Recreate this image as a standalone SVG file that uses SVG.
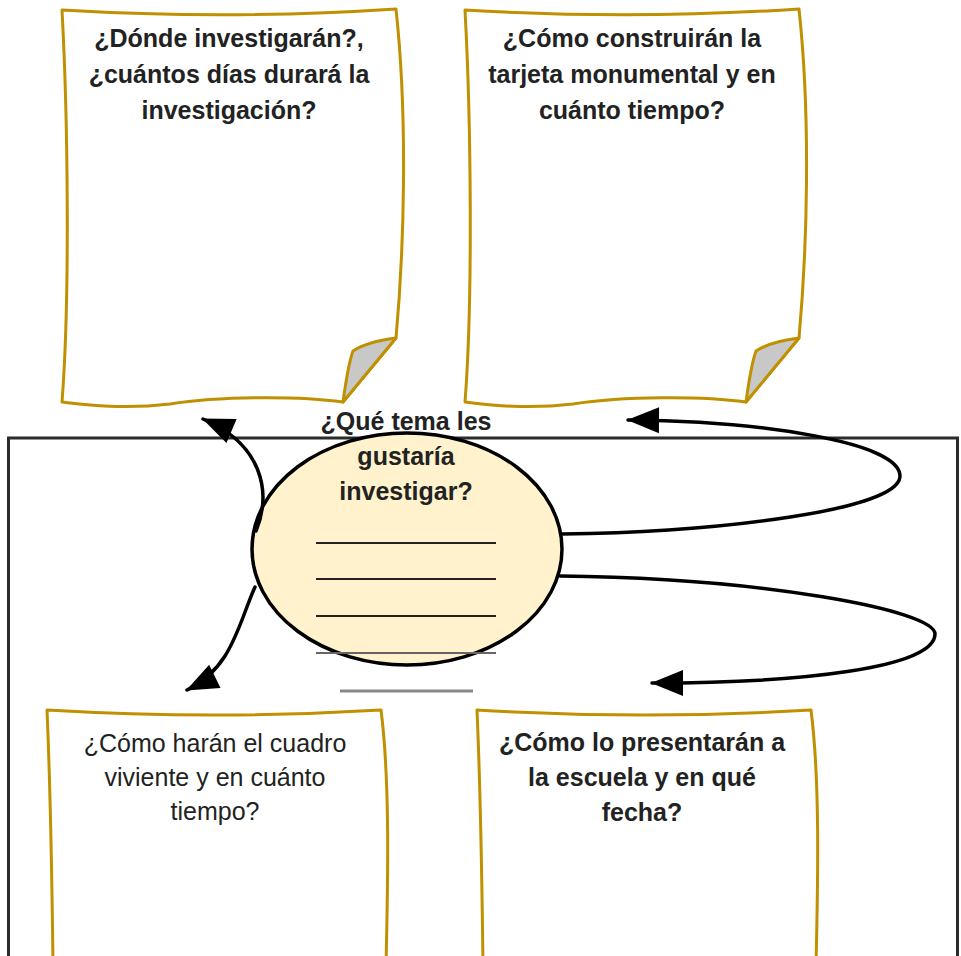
<svg xmlns="http://www.w3.org/2000/svg" width="961" height="956" viewBox="0 0 961 956">
<style>
  .paper { fill: #ffffff; stroke: #bf9000; stroke-width: 3; stroke-linejoin: round; }
  .fold { fill: #c8c8c8; stroke: #bf9000; stroke-width: 3; stroke-linejoin: round; }
  .t { font-family: "Liberation Sans", Arial, sans-serif; font-size: 25px; fill: #222222; text-anchor: middle; }
  .b { font-weight: bold; }
  .conn { fill: none; stroke: #000000; stroke-width: 3.5; stroke-linecap: round; }
  .rule { stroke: #222222; stroke-width: 2; }
</style>
<defs>
  <marker id="ah" markerUnits="userSpaceOnUse" markerWidth="34" markerHeight="28" refX="31" refY="13" orient="auto" overflow="visible">
    <path d="M0,0 L32,13 L0,26 Z" fill="#000000"/>
  </marker>
</defs>
<rect width="961" height="956" fill="#ffffff"/>

<g id="frame">
  <rect x="8.5" y="438" width="949" height="560" fill="none" stroke="#2b2b2b" stroke-width="3"/>
</g>

<g id="paper-donde">
  <path class="paper" d="M 62 10 Q 230 20 396 9 C 408 120 404 250 396 338 L 343 402 C 300 396 220 396 170 404 C 120 410 80 404 62 402 C 70 300 68 120 62 10 Z"/>
  <path class="fold" d="M 343 402 C 346 380 349 362 353 351 C 365 343 380 340 396 338 Z"/>
  <text class="t b" x="229" y="47">¿Dónde investigarán?,</text>
  <text class="t b" x="229" y="83">¿cuántos días durará la</text>
  <text class="t b" x="229" y="119">investigación?</text>
</g>

<g id="paper-tarjeta">
  <path class="paper" d="M 465 10 Q 633 20 799 9 C 811 120 807 250 799 338 L 746 402 C 703 396 623 396 573 404 C 523 410 483 404 465 402 C 473 300 471 120 465 10 Z"/>
  <path class="fold" d="M 746 402 C 749 380 752 362 756 351 C 768 343 783 340 799 338 Z"/>
  <text class="t b" x="632" y="47">¿Cómo construirán la</text>
  <text class="t b" x="632" y="83">tarjeta monumental y en</text>
  <text class="t b" x="632" y="119">cuánto tiempo?</text>
</g>

<g id="paper-cuadro">
  <path class="paper" d="M 47 710 Q 215 720 381 710 C 390 780 388 880 386 965 L 53 965 C 52 880 50 780 47 710 Z"/>
  <text class="t" x="215" y="752">¿Cómo harán el cuadro</text>
  <text class="t" x="215" y="786">viviente y en cuánto</text>
  <text class="t" x="215" y="820">tiempo?</text>
</g>

<g id="paper-escuela">
  <path class="paper" d="M 477 710 Q 645 720 811 710 C 820 780 818 880 816 965 L 483 965 C 482 880 480 780 477 710 Z"/>
  <text class="t b" x="642" y="751">¿Cómo lo presentarán a</text>
  <text class="t b" x="642" y="786">la escuela y en qué</text>
  <text class="t b" x="642" y="821">fecha?</text>
</g>

<g id="tema">
  <ellipse cx="407" cy="549" rx="155" ry="116" fill="#fff2cc" stroke="#000000" stroke-width="3.5"/>
  <line class="rule" x1="316" y1="543" x2="496" y2="543"/>
  <line class="rule" x1="316" y1="579" x2="496" y2="579"/>
  <line class="rule" x1="316" y1="616" x2="496" y2="616"/>
  <line x1="316" y1="653" x2="496" y2="653" stroke="#666666" stroke-width="2"/>
  <line x1="340" y1="691" x2="473" y2="691" stroke="#888888" stroke-width="3"/>
  <text class="t b" x="406" y="430">¿Qué tema les</text>
  <text class="t b" x="406" y="465">gustaría</text>
  <text class="t b" x="406" y="500">investigar?</text>
</g>

<g id="connectors">
  <path class="conn" d="M 256 531 C 272 492 262 444 203 419" marker-end="url(#ah)"/>
  <path class="conn" d="M 255 587 C 238 625 232 668 187 690" marker-end="url(#ah)"/>
  <path class="conn" d="M 562 534 C 720 532 900 510 900 476 C 900 442 760 421 628 420" marker-end="url(#ah)"/>
  <path class="conn" d="M 560 576 C 760 578 935 610 935 634 C 935 668 800 683 652 683" marker-end="url(#ah)"/>
</g>
</svg>
